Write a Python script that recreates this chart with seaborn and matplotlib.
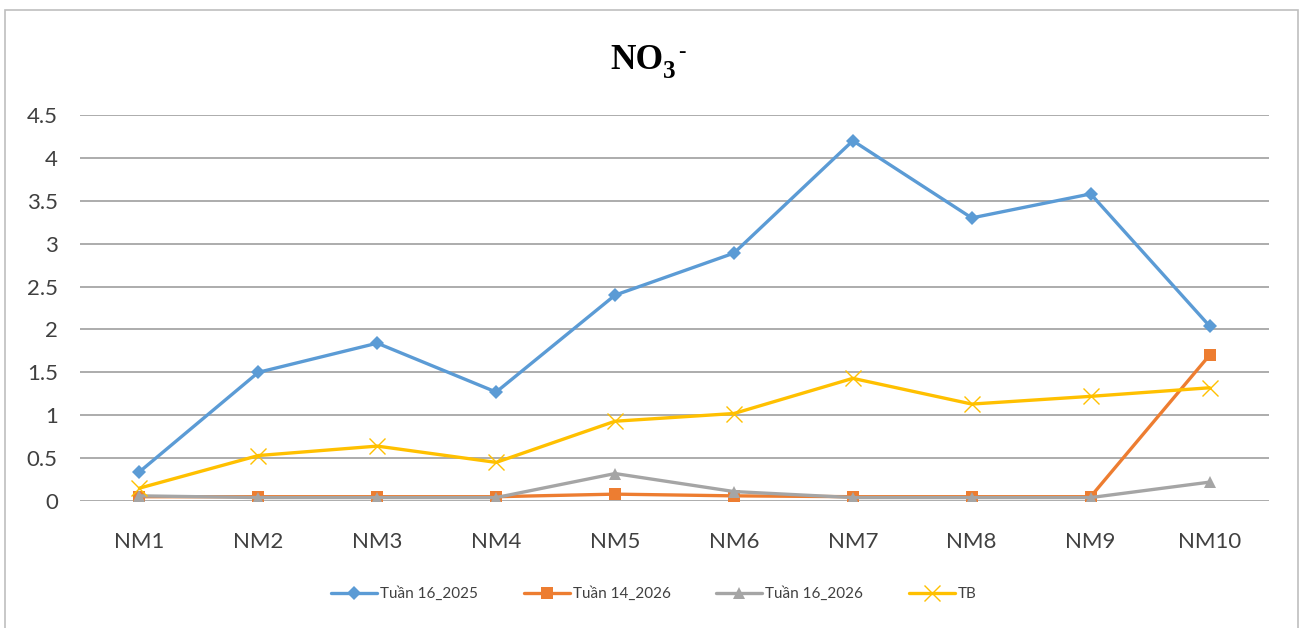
import matplotlib
matplotlib.use("Agg")
import matplotlib.pyplot as plt
import seaborn as sns
import pandas as pd
from matplotlib.patches import Rectangle

categories = ["NM1", "NM2", "NM3", "NM4", "NM5", "NM6", "NM7", "NM8", "NM9", "NM10"]
tuan16_2025 = [0.34, 1.50, 1.84, 1.27, 2.40, 2.89, 4.20, 3.30, 3.58, 2.04]
tuan14_2026 = [0.05, 0.05, 0.05, 0.05, 0.08, 0.06, 0.05, 0.05, 0.05, 1.70]
tuan16_2026 = [0.06, 0.04, 0.04, 0.04, 0.32, 0.11, 0.04, 0.04, 0.04, 0.22]
tb = [0.15, 0.53, 0.64, 0.45, 0.93, 1.02, 1.43, 1.13, 1.22, 1.32]
series_names = ["Tuần 16_2025", "Tuần 14_2026", "Tuần 16_2026", "TB"]
y_ticks = [0, 0.5, 1, 1.5, 2, 2.5, 3, 3.5, 4, 4.5]
y_tick_labels = ["0", "0.5", "1", "1.5", "2", "2.5", "3", "3.5", "4", "4.5"]

sns.set_style("white")
plt.rcParams["font.family"] = ["Lato", "DejaVu Sans"]

rows = []
for name, vals in zip(series_names, [tuan16_2025, tuan14_2026, tuan16_2026, tb]):
    for i, (c, v) in enumerate(zip(categories, vals)):
        rows.append({"pos": i, "cat": c, "value": v, "series": name})
df = pd.DataFrame(rows)

W, H = 1304, 628
fig = plt.figure(figsize=(W / 100, H / 100), dpi=100)
ax = fig.add_axes([80 / W, 127 / H, 1189 / W, 386 / H])

styles = {
    "Tuần 16_2025": dict(color="#5B9BD5", marker="D", markersize=7.5, mew=0),
    "Tuần 14_2026": dict(color="#ED7D31", marker="s", markersize=8, mew=0),
    "Tuần 16_2026": dict(color="#A5A5A5", marker="^", markersize=9, mew=0),
    "TB": dict(color="#FFC000", marker="x", markersize=11, mew=1.0),
}
for k, name in enumerate(series_names):
    st = styles[name]
    sns.lineplot(data=df[df["series"] == name], x="pos", y="value", ax=ax,
                 color=st["color"], marker=st["marker"], markersize=st["markersize"],
                 markeredgewidth=st["mew"], markeredgecolor=st["color"],
                 linewidth=2.4, label=name, zorder=3 + k)

ax.set_xlim(-0.5, 9.5)
ax.set_ylim(0, 4.5)
ax.set_yticks(y_ticks)
ax.set_yticklabels(y_tick_labels)
ax.set_xticks(range(len(categories)))
ax.set_xticklabels(categories)
ax.set_xlabel("")
ax.set_ylabel("")
ax.tick_params(axis="both", length=0, labelsize=16, colors="#404040")
ax.tick_params(axis="x", pad=22)
ax.tick_params(axis="y", pad=16)
for sp in ax.spines.values():
    sp.set_visible(False)
ax.grid(axis="y", color="#A6A6A6", linewidth=1.3)
ax.grid(axis="x", visible=False)
ax.set_axisbelow(True)

ax.legend(loc="center", bbox_to_anchor=(654 / W, 1 - 594 / H),
          bbox_transform=fig.transFigure, ncol=4, frameon=False,
          fontsize=11, handlelength=3.0, columnspacing=3.0, handletextpad=0.2,
          labelcolor="#404040")

serif = "Liberation Serif"
fig.text(664 / W, 1 - 69 / H, "NO", ha="right", va="baseline", family=serif,
         fontweight="bold", fontsize=25.5, color="black")
fig.text(663 / W, 1 - 78 / H, "3", ha="left", va="baseline", family=serif,
         fontweight="bold", fontsize=18, color="black")
fig.text(678 / W, 1 - 52 / H, "-", ha="left", va="center", family=serif,
         fontweight="bold", fontsize=16, color="black")

fig.patches.append(Rectangle((5 / W, -0.05), 1293 / W, 1.05 - 10 / H,
                             transform=fig.transFigure, fill=False,
                             edgecolor="#BFBFBF", linewidth=1.2))

fig.savefig("out.png", dpi=100, facecolor="white")
